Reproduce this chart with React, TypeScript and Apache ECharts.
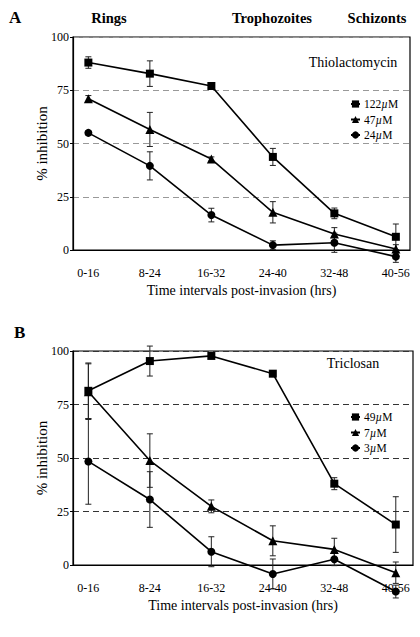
import React, { useEffect, useRef } from "react";
import * as echarts from "echarts";

const categories = ["0-16", "8-24", "16-32", "24-40", "32-48", "40-56"];
const yTicks = [0, 25, 50, 75, 100];

// Panel A – Thiolactomycin
const a122 = [88, 82.8, 77, 43.7, 17.2, 6.2];
const a122Err = [2.7, 6, 1, 4, 2.5, 6];
const a47 = [71, 56.6, 42.7, 17.7, 7.5, 0.5];
const a47Err = [1.5, 8, 1, 5, 3, 2];
const a24 = [55, 39.5, 16.4, 2.3, 3.4, -3.1];
const a24Err = [1, 6.6, 3.2, 2, 4.5, 2.7];

// Panel B – Triclosan
const b49 = [81.4, 95.3, 97.7, 89.4, 38, 18.9];
const b49Err = [13, 7, 1, 1, 2.8, 13];
const b7 = [81, 48.8, 27.4, 11.3, 7.3, -3.6];
const b7Err = [13, 12.5, 3, 7, 5.2, 5];
const b3 = [48.4, 30.6, 6.2, -4.2, 2.7, -12.4];
const b3Err = [20, 13, 7, 7, 3, 3];

const FONT = "Liberation Serif";

function App() {
  const ref = useRef<HTMLDivElement>(null);
  useEffect(() => {
    if (!ref.current) return;
    const chart = echarts.init(ref.current, null, { renderer: "svg" });

    const toPts = (vals: number[]) => vals.map((v, i) => [i, v]);
    const toErr = (vals: number[], err: number[]) =>
      vals.map((v, i) => [i, v - err[i], v + err[i]]);

    const lineSeries = (
      name: string,
      vals: number[],
      symbol: string,
      size: number,
      gi: number
    ) => ({
      type: "line",
      name,
      xAxisIndex: gi,
      yAxisIndex: gi,
      data: toPts(vals),
      symbol,
      symbolSize: size,
      clip: false,
      z: 5,
      itemStyle: { color: "#000" },
      lineStyle: { color: "#000", width: 1.6 },
    });

    const errSeries = (vals: number[], err: number[], gi: number) => ({
      type: "custom",
      xAxisIndex: gi,
      yAxisIndex: gi,
      clip: false,
      z: 3,
      silent: true,
      data: toErr(vals, err),
      renderItem: (params: any, api: any) => {
        const x = api.value(0);
        const lo = api.coord([x, api.value(1)]);
        const hi = api.coord([x, api.value(2)]);
        const w = 3;
        const style = { stroke: "#222", lineWidth: 1 };
        return {
          type: "group",
          children: [
            { type: "line", shape: { x1: lo[0], y1: lo[1], x2: hi[0], y2: hi[1] }, style },
            { type: "line", shape: { x1: lo[0] - w, y1: lo[1], x2: lo[0] + w, y2: lo[1] }, style },
            { type: "line", shape: { x1: hi[0] - w, y1: hi[1], x2: hi[0] + w, y2: hi[1] }, style },
          ],
        };
      },
    });

    const fmtLegend = (name: string) => {
      const num = name.replace("µM", "");
      return `{n|${num}}{mu|µ}{n|M}`;
    };
    const legendRich = {
      n: { fontFamily: FONT, fontSize: 11.5, color: "#000" },
      mu: { fontFamily: FONT, fontSize: 11.5, color: "#000", fontStyle: "italic" },
    };

    const xAxis = (gi: number, max: number) => ({
      type: "value",
      gridIndex: gi,
      min: -0.25,
      max,
      splitLine: { show: false },
      axisLine: { show: true, onZero: false, lineStyle: { color: "#000", width: 1.2 } },
      axisTick: { show: false },
      axisLabel: {
        customValues: categories.map((_, i) => i),
        formatter: (v: number) => categories[Math.round(v)] ?? "",
        fontFamily: FONT,
        fontSize: 12,
        color: "#000",
        margin: 17,
      },
      name: "Time intervals post-invasion (hrs)",
      nameLocation: "middle",
      nameGap: 33,
      nameMoveOverlap: false,
      nameTextStyle: { fontFamily: FONT, fontSize: 14, color: "#000" },
    });

    const yAxis = (gi: number, dashColor: string) => ({
      type: "value",
      gridIndex: gi,
      min: 0,
      max: 100,
      interval: 25,
      axisLine: { show: true, onZero: false, lineStyle: { color: "#000", width: 1.2 } },
      axisTick: { show: true, length: 3, lineStyle: { color: "#000" } },
      axisLabel: {
        customValues: yTicks,
        fontFamily: FONT,
        fontSize: 12,
        color: "#000",
        margin: 4,
      },
      splitLine: {
        show: true,
        lineStyle: { color: dashColor, type: [6, 4], width: 1 },
      },
      name: "% inhibition",
      nameLocation: "middle",
      nameGap: 24,
      nameMoveOverlap: false,
      nameRotate: 90,
      nameTextStyle: { fontFamily: FONT, fontSize: 15, color: "#000" },
    });

    const header = (text: string, x: number, y: number, size: number, align = "center") => ({
      type: "text",
      x,
      y,
      style: {
        text,
        fontFamily: FONT,
        fontSize: size,
        fontWeight: "bold",
        fill: "#000",
        align,
        verticalAlign: "middle",
      },
    });

    chart.setOption({
      animation: false,
      backgroundColor: "#fff",
      grid: [
        { left: 73, top: 37, width: 337, height: 213, show: true, borderColor: "#000", borderWidth: 1.2, backgroundColor: "transparent" },
        { left: 73, top: 351, width: 340, height: 214, show: true, borderColor: "#000", borderWidth: 1.2, backgroundColor: "transparent" },
      ],
      xAxis: [xAxis(0, 5.23), xAxis(1, 5.28)],
      yAxis: [yAxis(0, "#999"), yAxis(1, "#333")],
      legend: [
        {
          data: ["122µM", "47µM", "24µM"],
          orient: "vertical",
          left: 350,
          top: 98,
          itemWidth: 9,
          itemHeight: 9,
          itemGap: 3.5,
          padding: 0,
          formatter: fmtLegend,
          textStyle: { rich: legendRich, padding: [0, 0, 0, -1] },
          selectedMode: false,
        },
        {
          data: ["49µM", "7µM", "3µM"],
          orient: "vertical",
          left: 350,
          top: 411,
          itemWidth: 9,
          itemHeight: 9,
          itemGap: 3.5,
          padding: 0,
          formatter: fmtLegend,
          textStyle: { rich: legendRich, padding: [0, 0, 0, -1] },
          selectedMode: false,
        },
      ],
      graphic: [
        header("A", 9, 17, 17, "left"),
        header("Rings", 109, 18, 14.5),
        header("Trophozoites", 272, 18, 14.5),
        header("Schizonts", 377, 18, 14.5),
        header("B", 14, 332, 17, "left"),
        {
          type: "text",
          x: 353,
          y: 62,
          style: { text: "Thiolactomycin", fontFamily: FONT, fontSize: 14, fill: "#000", align: "center", verticalAlign: "middle" },
        },
        {
          type: "text",
          x: 353,
          y: 363,
          style: { text: "Triclosan", fontFamily: FONT, fontSize: 14, fill: "#000", align: "center", verticalAlign: "middle" },
        },
      ],
      series: [
        errSeries(a122, a122Err, 0),
        errSeries(a47, a47Err, 0),
        errSeries(a24, a24Err, 0),
        lineSeries("122µM", a122, "rect", 8, 0),
        lineSeries("47µM", a47, "triangle", 9, 0),
        lineSeries("24µM", a24, "circle", 8, 0),
        errSeries(b49, b49Err, 1),
        errSeries(b7, b7Err, 1),
        errSeries(b3, b3Err, 1),
        lineSeries("49µM", b49, "rect", 8, 1),
        lineSeries("7µM", b7, "triangle", 9, 1),
        lineSeries("3µM", b3, "circle", 8, 1),
      ],
    });
    return () => chart.dispose();
  }, []);

  return (
    <div
      ref={ref}
      style={{ position: "absolute", left: 0, top: 0, width: 420, height: 637, background: "#fff" }}
    />
  );
}

export default App;
